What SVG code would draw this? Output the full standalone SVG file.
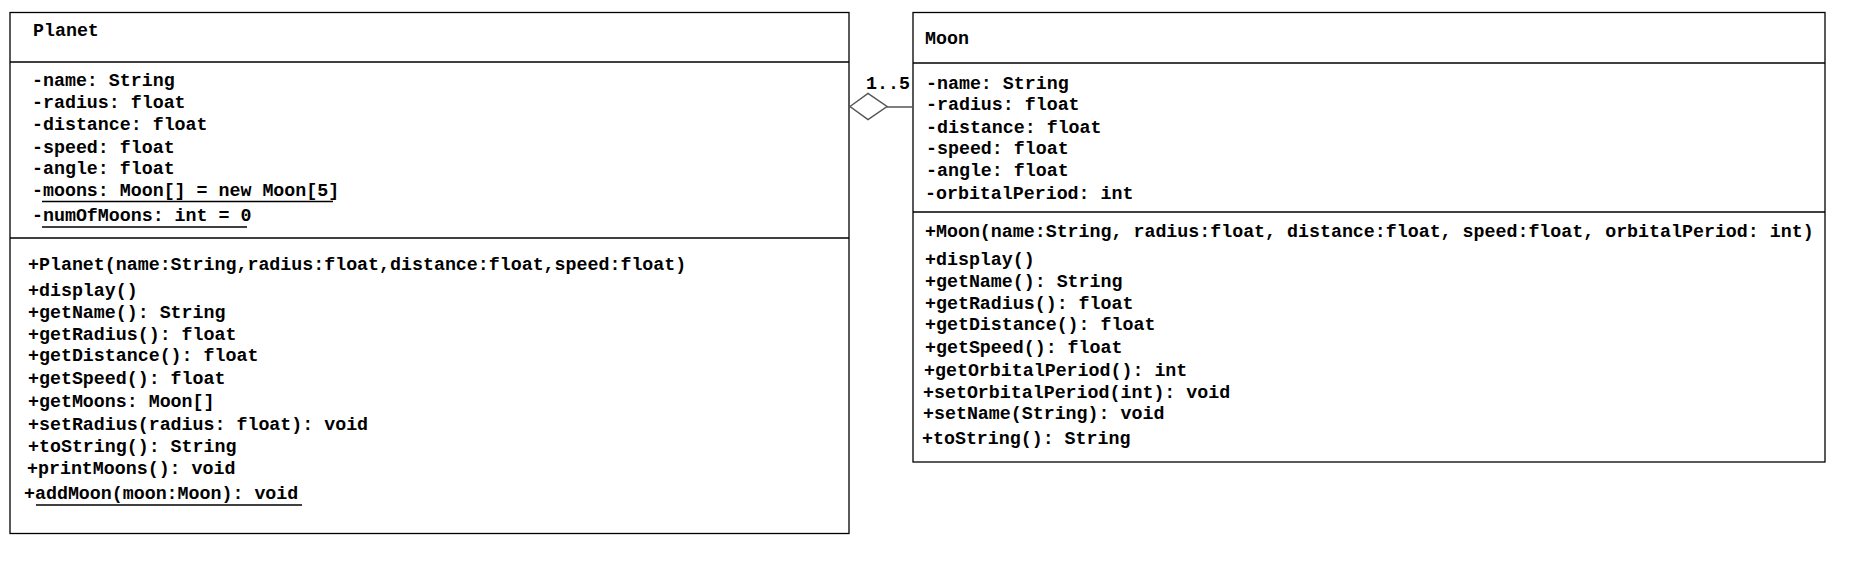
<svg xmlns="http://www.w3.org/2000/svg" width="1850" height="575" viewBox="0 0 1850 575">
<style>
.box{fill:#fff;stroke:#000;stroke-width:1.3}
.sep{stroke:#000;stroke-width:1.3}
text{font-family:"Liberation Mono","Courier New",monospace;font-weight:bold;font-size:18.3px;fill:#000}
.ul{stroke:#000;stroke-width:1.3}
.conn{stroke:#555;stroke-width:1.5;fill:none}
</style>
<rect x="0" y="0" width="1850" height="575" fill="#fff"/>
<g id="planet">
<rect class="box" x="10" y="12.5" width="839" height="521"/>
<line class="sep" x1="10" y1="62" x2="849" y2="62"/>
<line class="sep" x1="10" y1="238" x2="849" y2="238"/>
<text x="33" y="36">Planet</text>
<text x="32" y="86">-name: String</text>
<text x="32" y="108">-radius: float</text>
<text x="32" y="130">-distance: float</text>
<text x="32" y="153">-speed: float</text>
<text x="32" y="174">-angle: float</text>
<text x="32" y="196">-moons: Moon[] = new Moon[5]</text>
<line class="ul" x1="42" y1="201.5" x2="333" y2="201.5"/>
<text x="32" y="221">-numOfMoons: int = 0</text>
<line class="ul" x1="42" y1="227" x2="247" y2="227"/>
<text x="28" y="270">+Planet(name:String,radius:float,distance:float,speed:float)</text>
<text x="28" y="296">+display()</text>
<text x="28" y="318">+getName(): String</text>
<text x="28" y="340">+getRadius(): float</text>
<text x="28" y="361">+getDistance(): float</text>
<text x="28" y="384">+getSpeed(): float</text>
<text x="28" y="407">+getMoons: Moon[]</text>
<text x="28" y="430">+setRadius(radius: float): void</text>
<text x="28" y="452">+toString(): String</text>
<text x="27" y="474">+printMoons(): void</text>
<text x="24" y="499">+addMoon(moon:Moon): void</text>
<line class="ul" x1="36" y1="505" x2="302" y2="505"/>
</g>
<g id="moon">
<rect class="box" x="913" y="12.5" width="912" height="449.5"/>
<line class="sep" x1="913" y1="63" x2="1825" y2="63"/>
<line class="sep" x1="913" y1="212" x2="1825" y2="212"/>
<text x="925" y="44">Moon</text>
<text x="926" y="89">-name: String</text>
<text x="926" y="110">-radius: float</text>
<text x="926" y="133">-distance: float</text>
<text x="926" y="154">-speed: float</text>
<text x="926" y="176">-angle: float</text>
<text x="925" y="199">-orbitalPeriod: int</text>
<text x="925" y="237">+Moon(name:String, radius:float, distance:float, speed:float, orbitalPeriod: int)</text>
<text x="925" y="265">+display()</text>
<text x="925" y="287">+getName(): String</text>
<text x="925" y="309">+getRadius(): float</text>
<text x="925" y="330">+getDistance(): float</text>
<text x="925" y="353">+getSpeed(): float</text>
<text x="924" y="376">+getOrbitalPeriod(): int</text>
<text x="923" y="398">+setOrbitalPeriod(int): void</text>
<text x="923" y="419">+setName(String): void</text>
<text x="922" y="444">+toString(): String</text>
</g>
<g id="connectors">
<polygon class="conn" points="850,106.5 868,93.5 887,106.5 868,119.5" fill="#fff"/>
<line class="conn" x1="887" y1="107" x2="913" y2="107"/>
<text x="866" y="89">1..5</text>
</g>
</svg>
